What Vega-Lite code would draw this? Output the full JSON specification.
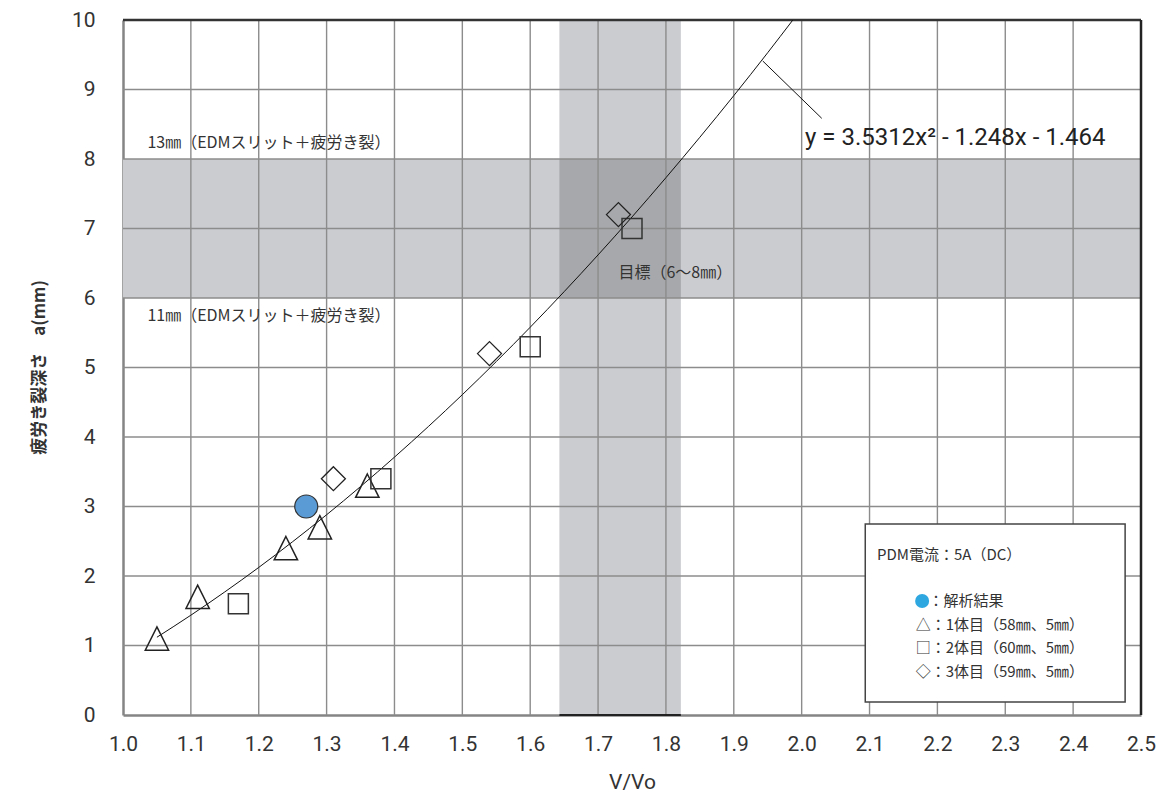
{
  "$schema": "https://vega.github.io/schema/vega-lite/v6.json",
  "width": 1018,
  "height": 695,
  "autosize": {"type": "none"},
  "padding": {"left": 123, "top": 20, "right": 23, "bottom": 84},
  "background": "white",
  "config": {"view": {"stroke": null}},
  "datasets": {
    "pts": [
      {"s": "1体目", "x": 1.05, "y": 1.1},
      {"s": "1体目", "x": 1.11, "y": 1.7},
      {"s": "1体目", "x": 1.24, "y": 2.4},
      {"s": "1体目", "x": 1.29, "y": 2.7},
      {"s": "1体目", "x": 1.36, "y": 3.3},
      {"s": "2体目", "x": 1.17, "y": 1.6},
      {"s": "2体目", "x": 1.38, "y": 3.4},
      {"s": "2体目", "x": 1.60, "y": 5.3},
      {"s": "2体目", "x": 1.75, "y": 7.0},
      {"s": "3体目", "x": 1.31, "y": 3.4},
      {"s": "3体目", "x": 1.54, "y": 5.2},
      {"s": "3体目", "x": 1.73, "y": 7.2},
      {"s": "解析結果", "x": 1.27, "y": 3.0}
    ],
    "curve": [
      {"x": 1.05, "y": 1.119}, {"x": 1.10, "y": 1.436}, {"x": 1.15, "y": 1.771},
      {"x": 1.20, "y": 2.123}, {"x": 1.25, "y": 2.494}, {"x": 1.30, "y": 2.881},
      {"x": 1.35, "y": 3.287}, {"x": 1.40, "y": 3.710}, {"x": 1.45, "y": 4.151},
      {"x": 1.50, "y": 4.609}, {"x": 1.55, "y": 5.085}, {"x": 1.60, "y": 5.579},
      {"x": 1.65, "y": 6.091}, {"x": 1.70, "y": 6.620}, {"x": 1.75, "y": 7.166},
      {"x": 1.80, "y": 7.731}, {"x": 1.85, "y": 8.313}, {"x": 1.90, "y": 8.912},
      {"x": 1.95, "y": 9.530}, {"x": 1.987, "y": 10.0}
    ],
    "bands": [
      {"k": "v", "x": 1.643, "x2": 1.822, "y": 0, "y2": 10},
      {"k": "h", "x": 1.0, "x2": 2.5, "y": 6, "y2": 8}
    ],
    "overlap": [{"x": 1.643, "x2": 1.822, "y": 6, "y2": 8}],
    "gx": [
      {"v": 1.1}, {"v": 1.2}, {"v": 1.3}, {"v": 1.4}, {"v": 1.5}, {"v": 1.6}, {"v": 1.7},
      {"v": 1.8}, {"v": 1.9}, {"v": 2.0}, {"v": 2.1}, {"v": 2.2}, {"v": 2.3}, {"v": 2.4}
    ],
    "gy": [
      {"v": 1}, {"v": 2}, {"v": 3}, {"v": 4}, {"v": 5}, {"v": 6}, {"v": 7}, {"v": 8}, {"v": 9}
    ],
    "notes": [
      {"t": "13㎜（EDMスリット＋疲労き裂）", "x": 1.036, "y": 8.23},
      {"t": "11㎜（EDMスリット＋疲労き裂）", "x": 1.036, "y": 5.74},
      {"t": "目標（6～8㎜）", "x": 1.73, "y": 6.36}
    ],
    "legtext": [
      {"t": "PDM電流：5A（DC）", "x": 2.111, "y": 2.30},
      {"t": "：解析結果", "x": 2.187, "y": 1.64},
      {"t": "△：1体目（58㎜、5㎜）", "x": 2.168, "y": 1.295},
      {"t": "□：2体目（60㎜、5㎜）", "x": 2.168, "y": 0.964},
      {"t": "◇：3体目（59㎜、5㎜）", "x": 2.168, "y": 0.619}
    ]
  },
  "layer": [
    {
      "data": {"name": "bands"},
      "mark": {"type": "rect", "color": "#cbccd0"},
      "encoding": {
        "x": {"field": "x", "type": "quantitative", "scale": {"domain": [1.0, 2.5], "nice": false, "zero": false},
          "axis": {"title": "V/Vo", "values": [1.0, 1.1, 1.2, 1.3, 1.4, 1.5, 1.6, 1.7, 1.8, 1.9, 2.0, 2.1, 2.2, 2.3, 2.4, 2.5],
            "format": ".1f", "grid": false, "ticks": false, "domainColor": "#858585", "domainWidth": 2.5,
            "labelFont": "Roboto", "labelFontSize": 21, "labelColor": "#333333", "labelPadding": 29,
            "labelBaseline": "middle", "labelFlush": false, "labelOverlap": false,
            "titleFont": "Roboto", "titleFontSize": 21, "titleFontWeight": "normal", "titleColor": "#333333",
            "titleBaseline": "middle", "titleY": 67}},
        "x2": {"field": "x2"},
        "y": {"field": "y", "type": "quantitative", "scale": {"domain": [0, 10], "nice": false, "zero": false},
          "axis": {"title": "疲労き裂深さ　a(mm)", "values": [0, 1, 2, 3, 4, 5, 6, 7, 8, 9, 10], "format": "d",
            "grid": false, "ticks": false, "domainColor": "#858585", "domainWidth": 2.5,
            "labelFont": "Roboto", "labelFontSize": 21, "labelColor": "#333333", "labelPadding": 28,
            "labelBaseline": "middle", "labelFlush": false, "labelOverlap": false,
            "titleFont": "Noto Sans CJK JP", "titleFontSize": 17, "titleFontWeight": "bold", "titleColor": "#333333",
            "titleAngle": -90, "titleAlign": "center", "titleBaseline": "middle", "titleX": -84, "titleY": 347}},
        "y2": {"field": "y2"}
      }
    },
    {
      "data": {"name": "overlap"},
      "mark": {"type": "rect", "color": "#a7a8ab"},
      "encoding": {
        "x": {"field": "x", "type": "quantitative"}, "x2": {"field": "x2"},
        "y": {"field": "y", "type": "quantitative"}, "y2": {"field": "y2"}
      }
    },
    {
      "data": {"name": "gx"},
      "mark": {"type": "rule", "color": "#8c8c8c", "strokeWidth": 1.4},
      "encoding": {"x": {"field": "v", "type": "quantitative"}}
    },
    {
      "data": {"name": "gy"},
      "mark": {"type": "rule", "color": "#8c8c8c", "strokeWidth": 1.4},
      "encoding": {"y": {"field": "v", "type": "quantitative"}}
    },
    {
      "data": {"values": [{"v": 10}]},
      "mark": {"type": "rule", "color": "#333333", "strokeWidth": 2.5},
      "encoding": {"y": {"field": "v", "type": "quantitative"}}
    },
    {
      "data": {"values": [{"v": 2.5}]},
      "mark": {"type": "rule", "color": "#222222", "strokeWidth": 2.5},
      "encoding": {"x": {"field": "v", "type": "quantitative"}}
    },
    {
      "data": {"values": [{"x": 1.643, "x2": 1.822, "y": 0}]},
      "mark": {"type": "rule", "color": "#222222", "strokeWidth": 2},
      "encoding": {"x": {"field": "x", "type": "quantitative"}, "x2": {"field": "x2"}, "y": {"field": "y", "type": "quantitative"}}
    },
    {
      "data": {"name": "curve"},
      "mark": {"type": "line", "color": "#111111", "strokeWidth": 1, "interpolate": "monotone"},
      "encoding": {"x": {"field": "x", "type": "quantitative"}, "y": {"field": "y", "type": "quantitative"}}
    },
    {
      "data": {"values": [{"x": 1.9427, "y": 9.41, "x2": 2.0296, "y2": 8.585}]},
      "mark": {"type": "rule", "color": "#111111", "strokeWidth": 1},
      "encoding": {"x": {"field": "x", "type": "quantitative"}, "x2": {"field": "x2"},
        "y": {"field": "y", "type": "quantitative"}, "y2": {"field": "y2"}}
    },
    {
      "data": {"name": "pts"},
      "transform": [{"filter": "datum.s === '1体目'"}],
      "mark": {"type": "point", "shape": "M0,-1L1,1L-1,1Z", "size": 545, "filled": false, "stroke": "#222222", "strokeWidth": 1.5, "opacity": 1},
      "encoding": {"x": {"field": "x", "type": "quantitative"}, "y": {"field": "y", "type": "quantitative"}}
    },
    {
      "data": {"name": "pts"},
      "transform": [{"filter": "datum.s === '2体目'"}],
      "mark": {"type": "point", "shape": "square", "size": 400, "filled": false, "stroke": "#333333", "strokeWidth": 1.5, "opacity": 1},
      "encoding": {"x": {"field": "x", "type": "quantitative"}, "y": {"field": "y", "type": "quantitative"}}
    },
    {
      "data": {"name": "pts"},
      "transform": [{"filter": "datum.s === '3体目'"}],
      "mark": {"type": "point", "shape": "diamond", "size": 576, "filled": false, "stroke": "#222222", "strokeWidth": 1.3, "opacity": 1},
      "encoding": {"x": {"field": "x", "type": "quantitative"}, "y": {"field": "y", "type": "quantitative"}}
    },
    {
      "data": {"name": "pts"},
      "transform": [{"filter": "datum.s === '解析結果'"}],
      "mark": {"type": "point", "shape": "circle", "size": 530, "filled": true, "fill": "#5b9bd5", "stroke": "#333333", "strokeWidth": 1.2, "opacity": 1, "fillOpacity": 1},
      "encoding": {"x": {"field": "x", "type": "quantitative"}, "y": {"field": "y", "type": "quantitative"}}
    },
    {
      "data": {"name": "notes"},
      "mark": {"type": "text", "align": "left", "baseline": "middle", "font": "Noto Sans CJK JP", "fontSize": 16, "color": "#333333"},
      "encoding": {"x": {"field": "x", "type": "quantitative"}, "y": {"field": "y", "type": "quantitative"}, "text": {"field": "t"}}
    },
    {
      "data": {"values": [{"t": "y = 3.5312x² - 1.248x - 1.464", "x": 2.005, "y": 8.30}]},
      "mark": {"type": "text", "align": "left", "baseline": "middle", "font": "Roboto", "fontSize": 24, "color": "#222222"},
      "encoding": {"x": {"field": "x", "type": "quantitative"}, "y": {"field": "y", "type": "quantitative"}, "text": {"field": "t"}}
    },
    {
      "data": {"values": [{"x": 2.0937, "x2": 2.4766, "y": 2.748, "y2": 0.187}]},
      "mark": {"type": "rect", "fill": "white", "stroke": "#444444", "strokeWidth": 1.5},
      "encoding": {"x": {"field": "x", "type": "quantitative"}, "x2": {"field": "x2"},
        "y": {"field": "y", "type": "quantitative"}, "y2": {"field": "y2"}}
    },
    {
      "data": {"values": [{"x": 2.1775, "y": 1.64}]},
      "mark": {"type": "point", "shape": "circle", "size": 196, "filled": true, "fill": "#2ea7e0", "strokeWidth": 0, "opacity": 1},
      "encoding": {"x": {"field": "x", "type": "quantitative"}, "y": {"field": "y", "type": "quantitative"}}
    },
    {
      "data": {"name": "legtext"},
      "mark": {"type": "text", "align": "left", "baseline": "middle", "font": "Noto Sans CJK JP", "fontSize": 15, "color": "#333333"},
      "encoding": {"x": {"field": "x", "type": "quantitative"}, "y": {"field": "y", "type": "quantitative"}, "text": {"field": "t"}}
    }
  ]
}
